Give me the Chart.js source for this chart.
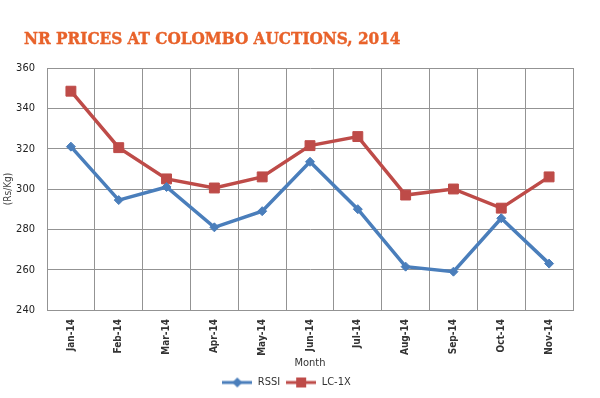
<!DOCTYPE html>
<html>
<head>
<meta charset="utf-8">
<script src="https://cdn.jsdelivr.net/npm/chart.js@4.4.0/dist/chart.umd.min.js"></script>
<style>
  html, body { margin: 0; padding: 0; background: #fff; }
  #wrap { position: relative; width: 600px; height: 398px; }
  #title {
    position: absolute; left: 24px; top: 30px;
    font-family: 'DejaVu Serif Condensed', 'DejaVu Serif', serif;
    font-size: 17px; line-height: 17px; font-weight: bold;
    color: #E8622A; -webkit-text-stroke: 0.4px #E8622A;
    white-space: nowrap;
  }
  canvas { position: absolute; left: 0; top: 0; }
</style>
</head>
<body>
<div id="wrap">
  <canvas id="chart" width="600" height="398"></canvas>
  <div id="title">NR PRICES AT COLOMBO AUCTIONS, 2014</div>
</div>
<script>
// datos
const months = ['Jan-14', 'Feb-14', 'Mar-14', 'Apr-14', 'May-14', 'Jun-14', 'Jul-14', 'Aug-14', 'Sep-14', 'Oct-14', 'Nov-14'];
const rssi = [321, 294.5, 301, 281, 289, 313.5, 290, 261.5, 259, 285.5, 263];
const lc1x = [348.5, 320.5, 305, 300.5, 306, 321.5, 326, 297, 300, 290.5, 306];
const yTicks = [240, 260, 280, 300, 320, 340, 360];

const BLUE = '#4A7EBB';
const RED = '#BE4B48';
const sans = "'Liberation Sans Narrow', 'DejaVu Sans Condensed', 'Liberation Sans', sans-serif";

// icono de leyenda: linea con marcador
function legendIcon(color, shape) {
    const c = document.createElement('canvas');
    c.width = 30; c.height = 12;
    const ctx = c.getContext('2d');
    ctx.strokeStyle = color;
    ctx.lineWidth = 3;
    ctx.beginPath(); ctx.moveTo(0, 6); ctx.lineTo(30, 6); ctx.stroke();
    ctx.fillStyle = color;
    if (shape === 'diamond') {
        ctx.beginPath();
        ctx.moveTo(15, 1); ctx.lineTo(20, 6); ctx.lineTo(15, 11); ctx.lineTo(10, 6);
        ctx.closePath(); ctx.fill();
    } else {
        ctx.fillRect(10, 1, 10, 10);
    }
    return c;
}
const icons = [legendIcon(BLUE, 'diamond'), legendIcon(RED, 'square')];

new Chart(document.getElementById('chart'), {
    type: 'line',
    data: {
        labels: months,
        datasets: [{
            label: 'RSSI',
            data: rssi,
            borderColor: BLUE,
            backgroundColor: BLUE,
            borderWidth: 3.5,
            pointStyle: 'rectRot',
            pointRadius: 4.5,
            pointBorderWidth: 1,
            pointBackgroundColor: BLUE,
            pointBorderColor: BLUE,
            tension: 0
        }, {
            label: 'LC-1X',
            data: lc1x,
            borderColor: RED,
            backgroundColor: RED,
            borderWidth: 3.5,
            pointStyle: 'rect',
            pointRadius: 7,
            pointBorderWidth: 1,
            pointBackgroundColor: RED,
            pointBorderColor: RED,
            tension: 0
        }]
    },
    options: {
        responsive: false,
        animation: false,
        layout: { padding: { left: 0, right: 27, top: 68, bottom: 0 } },
        plugins: {
            title: { display: false },
            legend: {
                position: 'bottom',
                labels: {
                    usePointStyle: true,
                    pointStyleWidth: 30,
                    color: '#333',
                    font: { family: sans, size: 11 },
                    padding: 6,
                    generateLabels: (chart) => {
                        const items = Chart.defaults.plugins.legend.labels.generateLabels(chart);
                        items.forEach((it, i) => { it.pointStyle = icons[i]; });
                        return items;
                    }
                }
            },
            tooltip: { enabled: false }
        },
        scales: {
            x: {
                offset: true,
                grid: { color: '#939393', lineWidth: 1, drawTicks: false, offset: true },
                border: { color: '#939393' },
                ticks: {
                    color: '#333',
                    font: { family: sans, size: 10, weight: 'bold' },
                    minRotation: 90,
                    maxRotation: 90,
                    padding: 9,
                    autoSkip: false
                },
                title: {
                    display: true,
                    text: 'Month',
                    color: '#333',
                    font: { family: sans, size: 11 },
                    padding: { top: 4, bottom: 1 }
                },
                afterFit: (scale) => { scale.height = 61; }
            },
            y: {
                min: 240,
                max: 360,
                afterBuildTicks: (scale) => { scale.ticks = yTicks.map(v => ({ value: v })); },
                grid: { color: '#939393', lineWidth: 1, drawTicks: false },
                border: { color: '#939393' },
                ticks: {
                    color: '#222',
                    font: { family: sans, size: 11 },
                    padding: 12
                },
                title: {
                    display: true,
                    text: '(Rs/Kg)',
                    color: '#444',
                    font: { family: sans, size: 10 },
                    padding: { top: 2, bottom: 4 }
                },
                afterFit: (scale) => { scale.width = 47; }
            }
        }
    }
});
</script>
</body>
</html>
